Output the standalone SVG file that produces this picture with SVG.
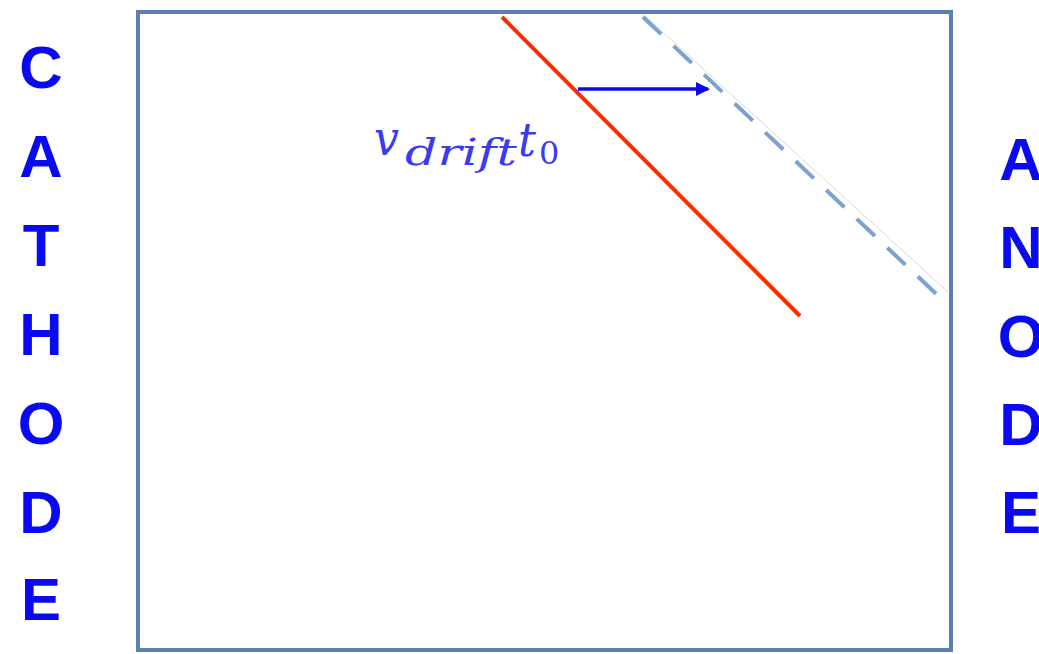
<svg xmlns="http://www.w3.org/2000/svg" width="1039" height="654" viewBox="0 0 1039 654">
<style>
.lbl{font-family:"Liberation Sans",Arial,sans-serif;font-weight:bold;font-size:60px;fill:#0a0af0;text-anchor:middle}
.math{font-family:"DejaVu Serif","Liberation Serif",serif;font-style:italic;fill:#3a3af5}
.up{font-style:normal}
</style>
<defs>
<marker id="ah" markerWidth="14" markerHeight="14" refX="12" refY="7" orient="auto" markerUnits="userSpaceOnUse">
<path d="M0,0 L14,7 L0,14 Z" fill="#0a0af0"/>
</marker>
</defs>
<rect width="1039" height="654" fill="#ffffff"/>
<g id="chamber">
<rect x="138" y="12" width="813" height="638" fill="#ffffff" stroke="#5b80b0" stroke-width="4"/>
</g>
<g id="connectors">
<line x1="643" y1="14" x2="948" y2="292" stroke="#d8d8d8" stroke-width="1"/>
<line x1="643" y1="17" x2="948" y2="305" stroke="#7ba3cf" stroke-width="4" stroke-dasharray="25 17"/>
<line x1="502" y1="17" x2="800" y2="316" stroke="#ff2a00" stroke-width="4"/>
<line x1="578" y1="89" x2="708" y2="89" stroke="#0a0af0" stroke-width="3.5" marker-end="url(#ah)"/>
</g>
<g id="label">
<text class="math" x="374" y="155" font-size="48" textLength="25" lengthAdjust="spacingAndGlyphs">v</text>
<text class="math" x="405" y="165" font-size="37" textLength="112" lengthAdjust="spacingAndGlyphs">drift</text>
<text class="math" x="518" y="156" font-size="46" textLength="18" lengthAdjust="spacingAndGlyphs">t</text>
<text class="math up" x="539" y="164" font-size="32">0</text>
</g>
<g id="cathode">
<text class="lbl" x="41" y="88">C</text>
<text class="lbl" x="41" y="177">A</text>
<text class="lbl" x="41" y="266">T</text>
<text class="lbl" x="41" y="355">H</text>
<text class="lbl" x="41" y="444">O</text>
<text class="lbl" x="41" y="533">D</text>
<text class="lbl" x="41" y="620">E</text>
</g>
<g id="anode">
<text class="lbl" x="1021" y="180">A</text>
<text class="lbl" x="1021" y="268">N</text>
<text class="lbl" x="1021" y="357">O</text>
<text class="lbl" x="1021" y="445">D</text>
<text class="lbl" x="1021" y="533">E</text>
</g>
</svg>
